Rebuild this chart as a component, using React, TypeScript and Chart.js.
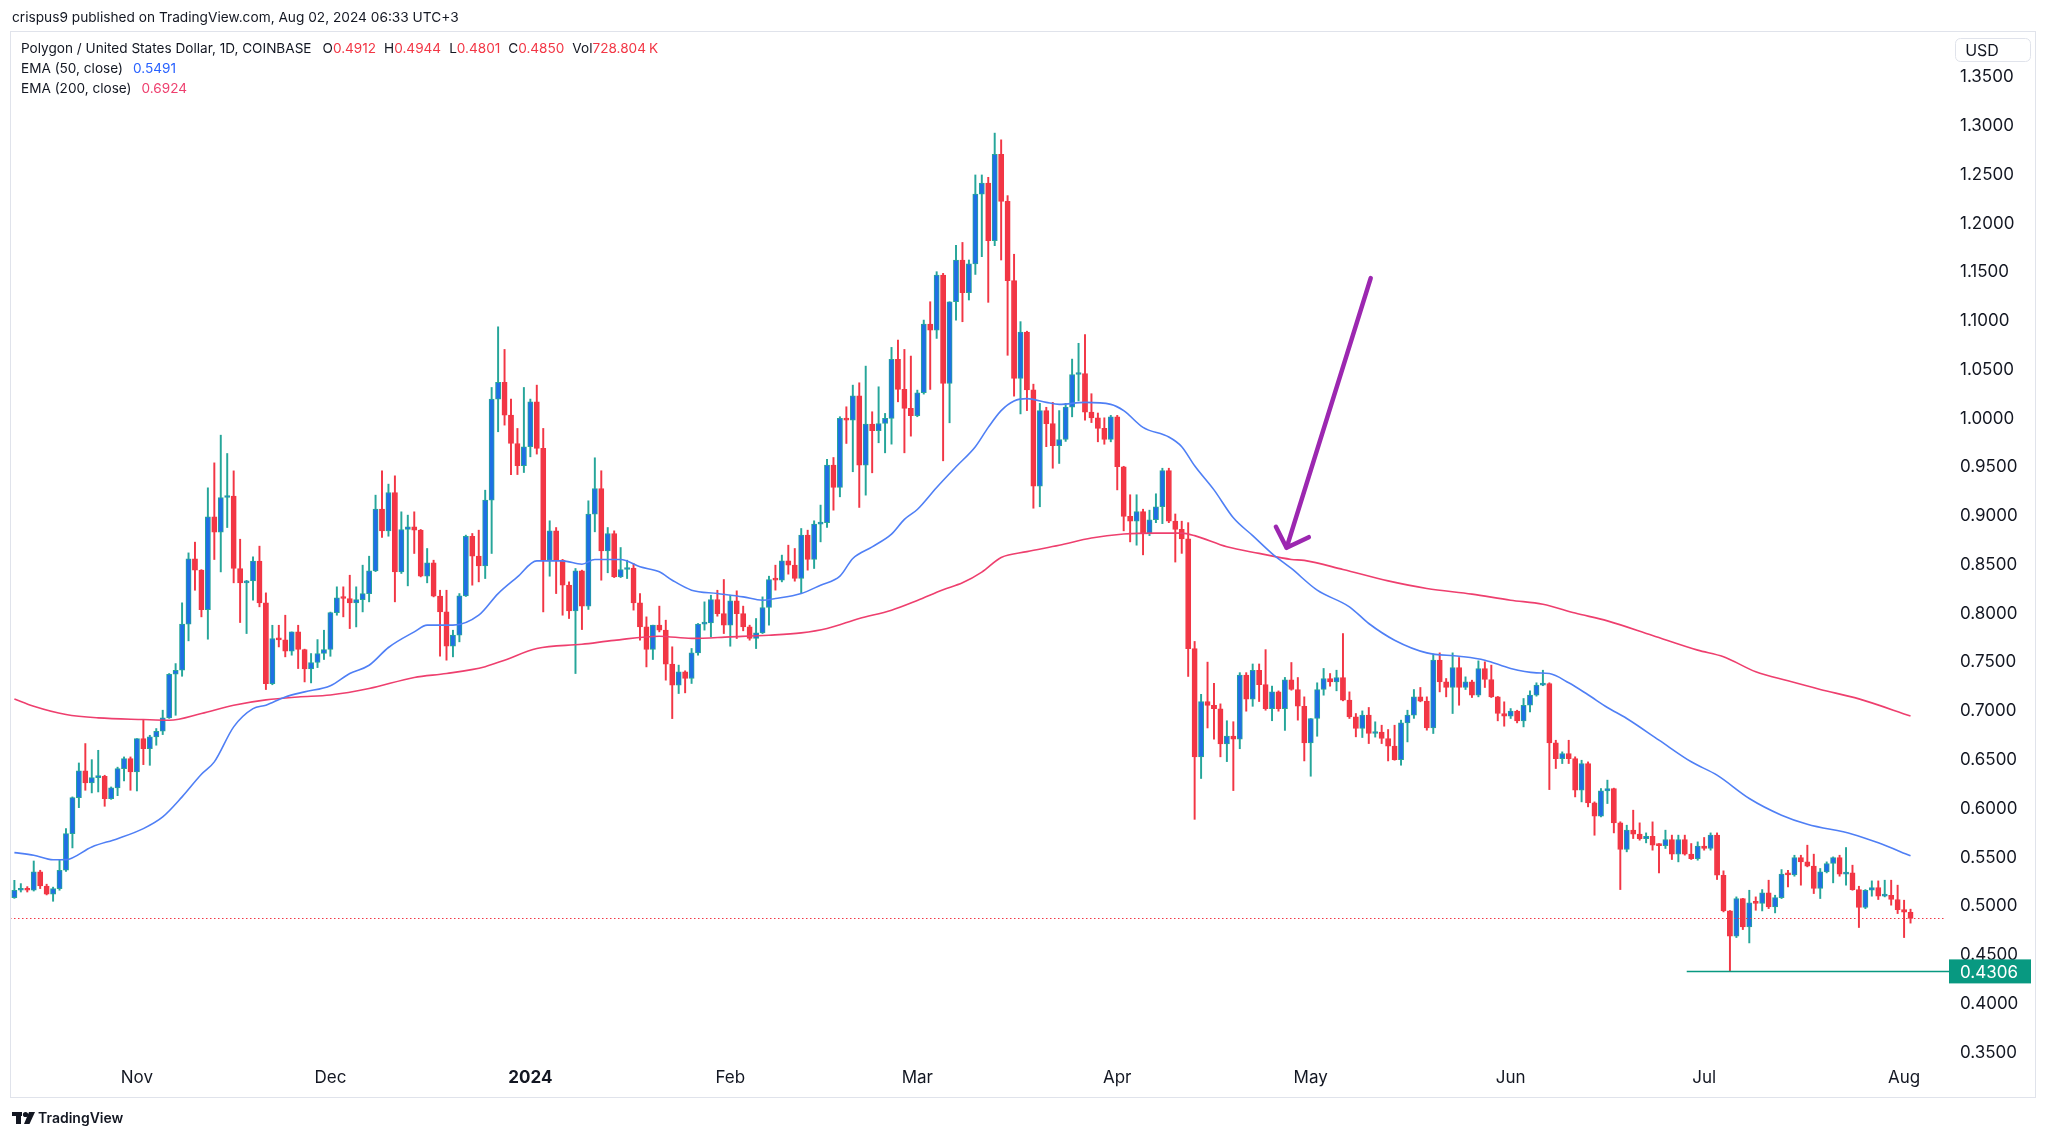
import React, { useEffect, useRef } from "react";
import { Chart, registerables } from "chart.js";

Chart.register(...registerables);

// ---- Data (day index 0 = 2023-10-13, 294 = 2024-08-02) ----
const OPEN = [
  0.5062,0.5138,0.5155,0.5138,0.5326,0.5182,0.5097,0.5155,0.5343,0.5719,
  0.6088,0.6362,0.6238,0.6293,0.6307,0.6078,0.6187,0.6385,0.6488,0.6351,
  0.6693,0.6590,0.6710,0.6768,0.6905,0.7353,0.7394,0.7866,0.8536,0.8420,
  0.8016,0.8967,0.8809,0.9165,0.9180,0.8437,0.8290,0.8310,0.8512,0.8085,
  0.7257,0.7719,0.7705,0.7589,0.7787,0.7606,0.7408,0.7473,0.7565,0.7606,
  0.7985,0.8139,0.8129,0.8085,0.8117,0.8180,0.8413,0.9045,0.8823,0.9216,
  0.8403,0.8837,0.8864,0.8830,0.8358,0.8495,0.8153,0.7992,0.7640,0.7753,
  0.8156,0.8768,0.8563,0.8464,0.9138,1.0174,1.0345,1.0010,0.9719,0.9490,
  0.9685,1.0146,0.9668,0.8522,0.8823,0.8522,0.8266,0.8003,0.8413,0.8051,
  0.8994,0.9257,0.8618,0.8796,0.8351,0.8427,0.8440,0.8085,0.7839,0.7606,
  0.7856,0.7805,0.7456,0.7240,0.7377,0.7309,0.7572,0.7866,0.7880,0.8119,
  0.7975,0.7856,0.8105,0.7975,0.7839,0.7719,0.7777,0.8037,0.8324,0.8317,
  0.8516,0.8471,0.8334,0.8779,0.8529,0.8892,0.8906,0.9497,0.9268,0.9976,
  0.9959,1.0208,0.9497,0.9917,0.9849,0.9924,0.9976,1.0581,1.0273,1.0078,
  1.0003,1.0239,1.0943,1.0881,1.1446,1.0334,1.1172,1.1599,1.1264,1.1560,
  1.2275,1.2388,1.1797,1.2684,1.2201,1.1388,1.0387,1.0860,1.0268,0.9282,
  1.0056,0.9923,0.9696,0.9760,1.0091,1.0426,1.0436,1.0041,0.9982,0.9874,
  0.9760,0.9992,0.9480,0.8971,0.8922,0.9020,0.8799,0.8937,0.9070,0.9440,
  0.8922,0.8838,0.8740,0.7615,0.6506,0.7073,0.7034,0.6999,0.6639,0.6718,
  0.6688,0.7344,0.7098,0.7394,0.7246,0.6999,0.7172,0.6999,0.7295,0.7196,
  0.7025,0.6649,0.6899,0.7196,0.7309,0.7275,0.7319,0.7087,0.6916,0.6796,
  0.6933,0.6745,0.6760,0.6694,0.6615,0.6478,0.6854,0.6933,0.7121,0.7077,
  0.6803,0.7497,0.7275,0.7217,0.7422,0.7217,0.7275,0.7138,0.7412,0.7299,
  0.7121,0.6950,0.6922,0.6974,0.6875,0.7035,0.7138,0.7241,0.7258,0.6649,
  0.6488,0.6540,0.6488,0.6164,0.6437,0.6034,0.5897,0.6157,0.6181,0.5829,
  0.5556,0.5754,0.5713,0.5668,0.5692,0.5600,0.5595,0.5658,0.5508,0.5658,
  0.5508,0.5463,0.5590,0.5566,0.5703,0.5292,0.4926,0.4667,0.5053,0.4762,
  0.5009,0.5003,0.5111,0.4967,0.5063,0.5303,0.5295,0.5473,0.5429,0.5385,
  0.5156,0.5327,0.5412,0.5473,0.5303,0.5316,0.5145,0.4961,0.5138,0.5166,
  0.5077,0.5087,0.5043,0.4940,0.4912,
];
const HIGH = [
  0.5240,0.5206,0.5175,0.5438,0.5343,0.5200,0.5170,0.5452,0.5770,0.6095,
  0.6443,0.6642,0.6477,0.6573,0.6317,0.6197,0.6400,0.6505,0.6505,0.6693,
  0.6880,0.6727,0.6796,0.6984,0.7360,0.7462,0.8085,0.8597,0.8707,0.8425,
  0.9264,0.9520,0.9804,0.9616,0.9438,0.8737,0.8315,0.8556,0.8666,0.8187,
  0.7855,0.7855,0.7958,0.7787,0.7855,0.7610,0.7565,0.7708,0.7804,0.7990,
  0.8249,0.8249,0.8368,0.8249,0.8471,0.8563,0.9189,0.9439,0.9302,0.9387,
  0.9018,0.8984,0.9018,0.8837,0.8642,0.8522,0.8214,0.8214,0.7804,0.8180,
  0.8779,0.8796,0.8830,0.9240,1.0293,1.0915,1.0683,1.0174,0.9873,1.0293,
  1.0174,1.0317,0.9873,0.8926,0.8857,0.8530,0.8300,0.8437,0.8420,0.9131,
  0.9572,0.9439,0.8857,0.8823,0.8652,0.8522,0.8488,0.8180,0.7941,0.7856,
  0.8051,0.7907,0.7634,0.7446,0.7388,0.7617,0.7873,0.8095,0.8163,0.8214,
  0.8324,0.8163,0.8208,0.8051,0.7856,0.7924,0.8146,0.8358,0.8471,0.8574,
  0.8676,0.8642,0.8847,0.8830,0.8926,0.9087,0.9555,0.9575,0.9993,1.0095,
  1.0317,1.0341,1.0512,1.0044,1.0300,1.0027,1.0704,1.0779,1.0683,1.0615,
  1.0266,1.0984,1.1172,1.1480,1.1463,1.1172,1.1750,1.1780,1.1600,1.2472,
  1.2472,1.2448,1.2901,1.2832,1.2260,1.1659,1.0968,1.0870,1.0327,1.0130,
  1.0090,1.0140,1.0056,1.0130,1.0584,1.0746,1.0835,1.0229,1.0031,0.9982,
  1.0007,1.0007,0.9485,0.9193,0.9193,0.9045,0.9035,0.9203,0.9465,0.9465,
  0.8996,0.8922,0.8907,0.7689,0.7147,0.7477,0.7260,0.7049,0.6876,0.6866,
  0.7369,0.7369,0.7458,0.7458,0.7605,0.7231,0.7182,0.7320,0.7473,0.7319,
  0.7121,0.6899,0.7265,0.7412,0.7360,0.7394,0.7770,0.7172,0.6950,0.6977,
  0.7012,0.6865,0.6830,0.6786,0.6830,0.6882,0.6984,0.7196,0.7217,0.7121,
  0.7559,0.7572,0.7309,0.7572,0.7524,0.7326,0.7292,0.7490,0.7480,0.7446,
  0.7125,0.7070,0.7001,0.6984,0.7104,0.7183,0.7265,0.7394,0.7265,0.6676,
  0.6557,0.6676,0.6506,0.6471,0.6454,0.6044,0.6181,0.6267,0.6185,0.5840,
  0.5805,0.5959,0.5829,0.5726,0.5839,0.5617,0.5754,0.5703,0.5703,0.5703,
  0.5617,0.5634,0.5679,0.5726,0.5726,0.5337,0.4930,0.5070,0.5055,0.5138,
  0.5070,0.5145,0.5241,0.5087,0.5350,0.5343,0.5497,0.5497,0.5600,0.5508,
  0.5361,0.5429,0.5480,0.5497,0.5576,0.5395,0.5179,0.5145,0.5234,0.5234,
  0.5241,0.5241,0.5190,0.5036,0.4944,
];
const LOW = [
  0.5055,0.5120,0.5120,0.5130,0.5155,0.5090,0.5025,0.5138,0.5330,0.5572,
  0.5985,0.6163,0.6136,0.6146,0.5999,0.6070,0.6108,0.6259,0.6163,0.6156,
  0.6426,0.6419,0.6625,0.6734,0.6900,0.6932,0.7332,0.7695,0.8214,0.7941,
  0.7712,0.8529,0.8402,0.8857,0.8290,0.7883,0.7770,0.8112,0.8044,0.7196,
  0.7245,0.7633,0.7531,0.7548,0.7411,0.7274,0.7264,0.7421,0.7504,0.7537,
  0.7958,0.7941,0.7821,0.7838,0.7992,0.8095,0.8405,0.8755,0.8768,0.8095,
  0.8386,0.8259,0.8591,0.8351,0.8290,0.8146,0.7538,0.7497,0.7531,0.7685,
  0.8150,0.8266,0.8300,0.8334,0.8591,0.9839,0.9907,0.9400,0.9400,0.9421,
  0.9582,0.9610,0.7992,0.8358,0.8180,0.7958,0.7924,0.7360,0.7811,0.8017,
  0.8813,0.8317,0.8393,0.8344,0.8344,0.8334,0.8010,0.7702,0.7428,0.7504,
  0.7787,0.7292,0.6898,0.7155,0.7162,0.7258,0.7548,0.7805,0.7736,0.7948,
  0.7770,0.7640,0.7719,0.7798,0.7702,0.7616,0.7770,0.7856,0.8215,0.8300,
  0.8379,0.8307,0.8187,0.8420,0.8437,0.8710,0.8858,0.9035,0.9172,0.9719,
  0.9429,0.9063,0.9189,0.9418,0.9726,0.9623,0.9712,1.0146,0.9623,0.9794,
  0.9993,1.0225,1.0273,1.0796,0.9541,0.9931,1.0984,1.0967,1.1190,1.1452,
  1.1634,1.1166,1.1747,1.1600,1.0623,1.0204,1.0022,1.0056,0.9055,0.9070,
  0.9686,0.9465,0.9514,0.9740,0.9992,1.0155,0.9958,0.9933,0.9736,0.9711,
  0.9736,0.9243,0.8823,0.8710,0.8676,0.8577,0.8774,0.8907,0.8897,0.8907,
  0.8503,0.8592,0.7330,0.5865,0.6284,0.6802,0.6688,0.6506,0.6457,0.6160,
  0.6589,0.6974,0.7024,0.7073,0.6984,0.6876,0.6974,0.6777,0.7189,0.6882,
  0.6464,0.6307,0.6717,0.7138,0.7230,0.7183,0.7080,0.6899,0.6711,0.6704,
  0.6642,0.6708,0.6642,0.6464,0.6471,0.6420,0.6659,0.6900,0.7070,0.6779,
  0.6745,0.7172,0.7121,0.6950,0.7035,0.7196,0.7114,0.7121,0.7217,0.7114,
  0.6875,0.6820,0.6899,0.6854,0.6813,0.6967,0.7128,0.7235,0.6170,0.6386,
  0.6437,0.6437,0.6095,0.6044,0.5993,0.5702,0.5890,0.6027,0.5726,0.5145,
  0.5532,0.5668,0.5651,0.5624,0.5549,0.5316,0.5566,0.5453,0.5429,0.5498,
  0.5453,0.5446,0.5549,0.5549,0.5248,0.4916,0.4306,0.4653,0.4735,0.4598,
  0.4933,0.4926,0.4950,0.4906,0.5053,0.5173,0.5282,0.5190,0.5378,0.5104,
  0.5053,0.5316,0.5214,0.5282,0.5190,0.5138,0.4756,0.4950,0.5077,0.5043,
  0.5070,0.4985,0.4899,0.4653,0.4801,
];
const CLOSE = [
  0.5137,0.5155,0.5138,0.5326,0.5182,0.5097,0.5155,0.5343,0.5719,0.6088,
  0.6362,0.6238,0.6293,0.6307,0.6078,0.6187,0.6385,0.6488,0.6351,0.6693,
  0.6590,0.6710,0.6768,0.6905,0.7353,0.7394,0.7866,0.8536,0.8420,0.8016,
  0.8967,0.8809,0.9165,0.9180,0.8437,0.8290,0.8310,0.8512,0.8085,0.7257,
  0.7719,0.7705,0.7589,0.7787,0.7606,0.7408,0.7473,0.7565,0.7606,0.7985,
  0.8136,0.8129,0.8085,0.8117,0.8180,0.8413,0.9045,0.8823,0.9216,0.8403,
  0.8837,0.8864,0.8830,0.8358,0.8495,0.8153,0.7992,0.7640,0.7753,0.8156,
  0.8768,0.8563,0.8464,0.9138,1.0174,1.0345,1.0010,0.9719,0.9490,0.9685,
  1.0146,0.9668,0.8522,0.8823,0.8522,0.8266,0.8003,0.8413,0.8051,0.8994,
  0.9257,0.8618,0.8796,0.8351,0.8427,0.8440,0.8085,0.7839,0.7606,0.7856,
  0.7805,0.7456,0.7240,0.7377,0.7309,0.7572,0.7866,0.7880,0.8119,0.7975,
  0.7856,0.8105,0.7975,0.7839,0.7719,0.7777,0.8037,0.8324,0.8317,0.8516,
  0.8471,0.8334,0.8779,0.8529,0.8892,0.8906,0.9497,0.9268,0.9976,0.9959,
  1.0208,0.9497,0.9917,0.9849,0.9924,0.9976,1.0581,1.0273,1.0078,1.0003,
  1.0239,1.0943,1.0881,1.1446,1.0334,1.1172,1.1599,1.1264,1.1560,1.2275,
  1.2388,1.1797,1.2684,1.2201,1.1388,1.0387,1.0860,1.0268,0.9282,1.0056,
  0.9923,0.9696,0.9760,1.0091,1.0426,1.0436,1.0041,0.9982,0.9874,0.9760,
  0.9992,0.9480,0.8971,0.8922,0.9020,0.8799,0.8937,0.9070,0.9440,0.8922,
  0.8838,0.8740,0.7615,0.6506,0.7073,0.7034,0.6999,0.6639,0.6718,0.6688,
  0.7344,0.7098,0.7394,0.7246,0.6999,0.7172,0.6999,0.7295,0.7196,0.7025,
  0.6649,0.6899,0.7196,0.7309,0.7275,0.7319,0.7087,0.6916,0.6796,0.6933,
  0.6745,0.6760,0.6694,0.6615,0.6478,0.6854,0.6933,0.7121,0.7077,0.6803,
  0.7497,0.7275,0.7217,0.7422,0.7217,0.7275,0.7138,0.7412,0.7299,0.7121,
  0.6950,0.6922,0.6974,0.6875,0.7035,0.7138,0.7241,0.7258,0.6649,0.6488,
  0.6540,0.6488,0.6164,0.6437,0.6034,0.5897,0.6157,0.6181,0.5829,0.5556,
  0.5754,0.5713,0.5668,0.5692,0.5600,0.5595,0.5658,0.5508,0.5658,0.5508,
  0.5463,0.5590,0.5566,0.5703,0.5292,0.4926,0.4667,0.5053,0.4762,0.5009,
  0.5003,0.5111,0.4967,0.5063,0.5303,0.5295,0.5473,0.5429,0.5385,0.5156,
  0.5327,0.5412,0.5473,0.5303,0.5316,0.5145,0.4961,0.5138,0.5166,0.5077,
  0.5087,0.5043,0.4940,0.4912,0.4850,
];

const EMA50_IDX = [0,3,6,8,12,16,20,23,26,29,31,34,37,39,42,45,49,52,55,58,62,64,68,72,75,78,81,85,88,90,94,97,100,102,105,109,113,116,118,122,125,128,130,133,136,138,140,143,146,149,151,153,155,157,160,162,166,170,172,175,179,181,183,186,189,192,195,198,202,207,210,214,219,224,228,232,236,238,241,244,247,250,255,260,264,269,274,278,285,289,294];
const EMA50_VAL = [0.5524,0.5497,0.5450,0.5452,0.5582,0.5667,0.5770,0.5890,0.6095,0.6327,0.6454,0.6813,0.7000,0.7035,0.7120,0.7172,0.7235,0.7360,0.7445,0.7627,0.7787,0.7856,0.7856,0.7958,0.8180,0.8351,0.8515,0.8515,0.8481,0.8529,0.8529,0.8454,0.8403,0.8317,0.8215,0.8181,0.8146,0.8112,0.8129,0.8181,0.8266,0.8358,0.8540,0.8659,0.8789,0.8940,0.9042,0.9268,0.9480,0.9686,0.9884,1.0056,1.0155,1.0179,1.0140,1.0120,1.0140,1.0120,1.0056,0.9884,0.9785,0.9686,0.9490,0.9243,0.8957,0.8774,0.8590,0.8437,0.8215,0.8044,0.7873,0.7702,0.7572,0.7538,0.7497,0.7412,0.7367,0.7360,0.7265,0.7142,0.7012,0.6899,0.6677,0.6455,0.6318,0.6079,0.5908,0.5815,0.5713,0.5624,0.5491];
const EMA200_IDX = [0,3,8,13,20,24,29,34,39,44,49,55,62,67,73,76,81,88,93,100,105,111,117,122,126,131,136,140,144,147,150,153,157,162,167,172,177,181,183,188,193,198,200,206,213,219,226,232,237,242,247,254,261,265,270,275,280,286,294];
const EMA200_VAL = [0.7100,0.7025,0.6940,0.6905,0.6888,0.6881,0.6950,0.7035,0.7090,0.7120,0.7140,0.7206,0.7320,0.7360,0.7430,0.7497,0.7616,0.7660,0.7700,0.7743,0.7720,0.7736,0.7753,0.7777,0.7822,0.7924,0.8010,0.8110,0.8220,0.8290,0.8400,0.8550,0.8610,0.8675,0.8750,0.8790,0.8800,0.8800,0.8774,0.8660,0.8592,0.8530,0.8520,0.8427,0.8310,0.8232,0.8174,0.8112,0.8071,0.7980,0.7900,0.7750,0.7600,0.7532,0.7378,0.7285,0.7197,0.7100,0.6924];

const MONTH_TICK_IDX = [19, 49, 80, 111, 140, 171, 201, 232, 262, 293];
const MONTH_TICK_LABELS = ["Nov", "Dec", "2024", "Feb", "Mar", "Apr", "May", "Jun", "Jul", "Aug"];
const PRICE_TICKS = [0.35,0.40,0.45,0.50,0.55,0.60,0.65,0.70,0.75,0.80,0.85,0.90,0.95,1.00,1.05,1.10,1.15,1.20,1.25,1.30,1.35];

const HEADER_TEXT = "crispus9 published on TradingView.com, Aug 02, 2024 06:33 UTC+3";
const SYMBOL_TEXT = "Polygon / United States Dollar, 1D, COINBASE";
const LAST_OHLC = [["O", "0.4912"], ["H", "0.4944"], ["L", "0.4801"], ["C", "0.4850"]];
const LAST_VOL = "728.804";
const EMA50_LAST = "0.5491";
const EMA200_LAST = "0.6924";
const LAST_CLOSE = 0.485;
const SUPPORT_LEVEL = 0.4306;
const SUPPORT_START_IDX = 259.3;
// arrow annotation in data coords: [dayIndex, price]
const ARROW_TAIL = [210.3, 1.1415];
const ARROW_TIP = [197.25, 0.8649];
const ARROW_HEAD_A = [195.6, 0.8864];
const ARROW_HEAD_B = [200.7, 0.8758];

const FONT = 'Inter, "Noto Sans", Roboto, sans-serif';
const TEXT = "#131722";
const UP_BODY = "#1f6fe5";
const UP_WICK = "#26a69a";
const DOWN = "#f23645";
const EMA50_COLOR = "#4f7ff5";
const EMA200_COLOR = "#ee3f6e";
const GREEN = "#089981";

const overlay = {
  id: "overlay",
  beforeDraw(chart: any) {
    const { ctx, width, height } = chart;
    ctx.save();
    ctx.fillStyle = "#ffffff";
    ctx.fillRect(0, 0, width, height);
    ctx.restore();
  },
  afterDatasetsDraw(chart: any) {
    const { ctx, chartArea, scales } = chart;
    const xs = scales.x, ys = scales.y;
    ctx.save();
    // last price dotted line
    const yc = Math.round(ys.getPixelForValue(LAST_CLOSE)) + 0.5;
    ctx.strokeStyle = DOWN;
    ctx.lineWidth = 1;
    ctx.setLineDash([1.5, 2.5]);
    ctx.beginPath();
    ctx.moveTo(chartArea.left, yc);
    ctx.lineTo(chartArea.right, yc);
    ctx.stroke();
    ctx.setLineDash([]);
    // support horizontal ray
    const ys2 = ys.getPixelForValue(SUPPORT_LEVEL);
    ctx.strokeStyle = GREEN;
    ctx.lineWidth = 1.5;
    ctx.beginPath();
    ctx.moveTo(xs.getPixelForValue(SUPPORT_START_IDX), ys2);
    ctx.lineTo(chartArea.right + 4, ys2);
    ctx.stroke();
    // arrow
    const P = (p: number[]) => [xs.getPixelForValue(p[0]), ys.getPixelForValue(p[1])];
    const t = P(ARROW_TAIL), tip = P(ARROW_TIP), a = P(ARROW_HEAD_A), b = P(ARROW_HEAD_B);
    ctx.strokeStyle = "#9c27b0";
    ctx.lineWidth = 4.5;
    ctx.lineCap = "round";
    ctx.lineJoin = "round";
    ctx.beginPath();
    ctx.moveTo(t[0], t[1]);
    ctx.lineTo(tip[0], tip[1]);
    ctx.moveTo(a[0], a[1]);
    ctx.lineTo(tip[0], tip[1]);
    ctx.lineTo(b[0], b[1]);
    ctx.stroke();
    ctx.restore();
  },
  afterDraw(chart: any) {
    const { ctx, scales } = chart;
    const ys = scales.y;
    ctx.save();
    // outer frame
    ctx.strokeStyle = "#e0e3eb";
    ctx.lineWidth = 1;
    ctx.strokeRect(10.5, 31.5, 2025, 1066);
    // header
    ctx.fillStyle = TEXT;
    ctx.textBaseline = "middle";
    ctx.textAlign = "left";
    ctx.font = `13.7px ${FONT}`;
    ctx.fillText(HEADER_TEXT, 12, 18);
    // legend
    const drawSeq = (segs: [string, string, number][], x: number, y: number) => {
      let cx = x;
      for (const [s, c, gap] of segs) {
        ctx.fillStyle = c;
        ctx.fillText(s, cx, y);
        cx += ctx.measureText(s).width + gap;
      }
    };
    ctx.font = `13.6px ${FONT}`;
    const line1: [string, string, number][] = [[SYMBOL_TEXT, TEXT, 11]];
    for (const [k, v] of LAST_OHLC) {
      line1.push([k, TEXT, 0]);
      line1.push([v, DOWN, 8]);
    }
    line1.push(["Vol", TEXT, 0]);
    line1.push([LAST_VOL, DOWN, 3]);
    line1.push(["K", DOWN, 0]);
    drawSeq(line1, 21, 49);
    drawSeq([["EMA (50, close)", TEXT, 10], [EMA50_LAST, "#2962ff", 0]], 21, 69);
    drawSeq([["EMA (200, close)", TEXT, 10], [EMA200_LAST, EMA200_COLOR, 0]], 21, 89);
    // USD box
    ctx.strokeStyle = "#e0e3eb";
    ctx.lineWidth = 1;
    ctx.beginPath();
    (ctx as any).roundRect(1955.5, 38.5, 75, 23, 5);
    ctx.stroke();
    ctx.fillStyle = TEXT;
    ctx.font = `16px ${FONT}`;
    ctx.textAlign = "center";
    ctx.fillText("USD", 1982, 51);
    // support label on price axis
    const yl = ys.getPixelForValue(SUPPORT_LEVEL);
    ctx.fillStyle = GREEN;
    ctx.fillRect(1949, yl - 12, 82, 24);
    ctx.fillStyle = "#ffffff";
    ctx.font = `17px ${FONT}`;
    ctx.textAlign = "left";
    ctx.fillText(SUPPORT_LEVEL.toFixed(4), 1960, yl + 1.5);
    // TradingView logo
    ctx.fillStyle = TEXT;
    ctx.fillRect(12, 1112, 10, 4);
    ctx.fillRect(16, 1112, 5, 12);
    ctx.beginPath();
    ctx.arc(25.5, 1114.5, 2.6, 0, Math.PI * 2);
    ctx.fill();
    ctx.beginPath();
    ctx.moveTo(29, 1112);
    ctx.lineTo(35, 1112);
    ctx.lineTo(29.5, 1124);
    ctx.lineTo(24, 1124);
    ctx.closePath();
    ctx.fill();
    ctx.font = `600 14px ${FONT}`;
    ctx.textAlign = "left";
    ctx.fillText("TradingView", 38, 1119);
    ctx.restore();
  },
};

export default function App() {
  const ref = useRef<HTMLCanvasElement | null>(null);
  useEffect(() => {
    document.body.style.margin = "0";
    const canvas = ref.current;
    if (!canvas) return;
    const isUp = OPEN.map((o, i) => CLOSE[i] >= o);
    const chart = new Chart(canvas, {
      type: "bar",
      data: {
        datasets: [
          {
            type: "line",
            label: "EMA 50",
            data: EMA50_IDX.map((x, k) => ({ x, y: EMA50_VAL[k] })),
            borderColor: EMA50_COLOR,
            borderWidth: 1.6,
            pointRadius: 0,
            cubicInterpolationMode: "monotone",
            order: 0,
          } as any,
          {
            type: "line",
            label: "EMA 200",
            data: EMA200_IDX.map((x, k) => ({ x, y: EMA200_VAL[k] })),
            borderColor: EMA200_COLOR,
            borderWidth: 1.6,
            pointRadius: 0,
            cubicInterpolationMode: "monotone",
            order: 0,
          } as any,
          {
            type: "bar",
            label: "Wicks",
            data: OPEN.map((_, i) => ({ x: i, y: [LOW[i], HIGH[i]] })),
            backgroundColor: isUp.map((u) => (u ? UP_WICK : DOWN)),
            barThickness: 1.3,
            grouped: false,
            order: 2,
          } as any,
          {
            type: "bar",
            label: "Bodies",
            data: OPEN.map((o, i) => ({ x: i, y: [o, CLOSE[i]] })),
            backgroundColor: isUp.map((u) => (u ? UP_BODY : DOWN)),
            borderColor: isUp.map((u) => (u ? UP_WICK : DOWN)),
            borderWidth: 1,
            borderSkipped: false,
            barThickness: 5.2,
            minBarLength: 2,
            grouped: false,
            order: 1,
          } as any,
        ],
      },
      options: {
        responsive: false,
        animation: false,
        devicePixelRatio: 1,
        layout: { padding: { left: 10, top: 31, right: 26, bottom: 0 } },
        plugins: { legend: { display: false }, tooltip: { enabled: false } },
        scales: {
          x: {
            type: "linear",
            min: -0.68,
            max: 299.5,
            offset: false,
            grid: { display: false, drawTicks: false },
            border: { display: false },
            afterBuildTicks: (s: any) => {
              s.ticks = MONTH_TICK_IDX.map((v) => ({ value: v }));
            },
            afterFit: (s: any) => {
              s.height = 76;
            },
            ticks: {
              autoSkip: false,
              maxRotation: 0,
              padding: 6,
              color: TEXT,
              font: (c: any) => ({
                family: FONT,
                size: 17,
                weight: c.tick && c.tick.label === "2024" ? "bold" : "normal",
              }),
              callback: (v: any) => {
                const k = MONTH_TICK_IDX.indexOf(Number(v));
                return k >= 0 ? MONTH_TICK_LABELS[k] : "";
              },
            },
          } as any,
          y: {
            type: "linear",
            position: "right",
            min: 0.3377,
            max: 1.3948,
            grid: { display: false, drawTicks: false },
            border: { display: false },
            afterBuildTicks: (s: any) => {
              s.ticks = PRICE_TICKS.map((v) => ({ value: v }));
            },
            afterFit: (s: any) => {
              s.width = 76;
            },
            ticks: {
              padding: 14,
              crossAlign: "near",
              labelOffset: 2.5,
              color: TEXT,
              font: { family: FONT, size: 17 },
              callback: (v: any) => Number(v).toFixed(4),
            },
          } as any,
        },
      },
      plugins: [overlay],
    });
    return () => chart.destroy();
  }, []);
  return (
    <div style={{ width: 2048, height: 1138, position: "relative" }}>
      <canvas ref={ref} width={2048} height={1138} style={{ display: "block" }} />
    </div>
  );
}
